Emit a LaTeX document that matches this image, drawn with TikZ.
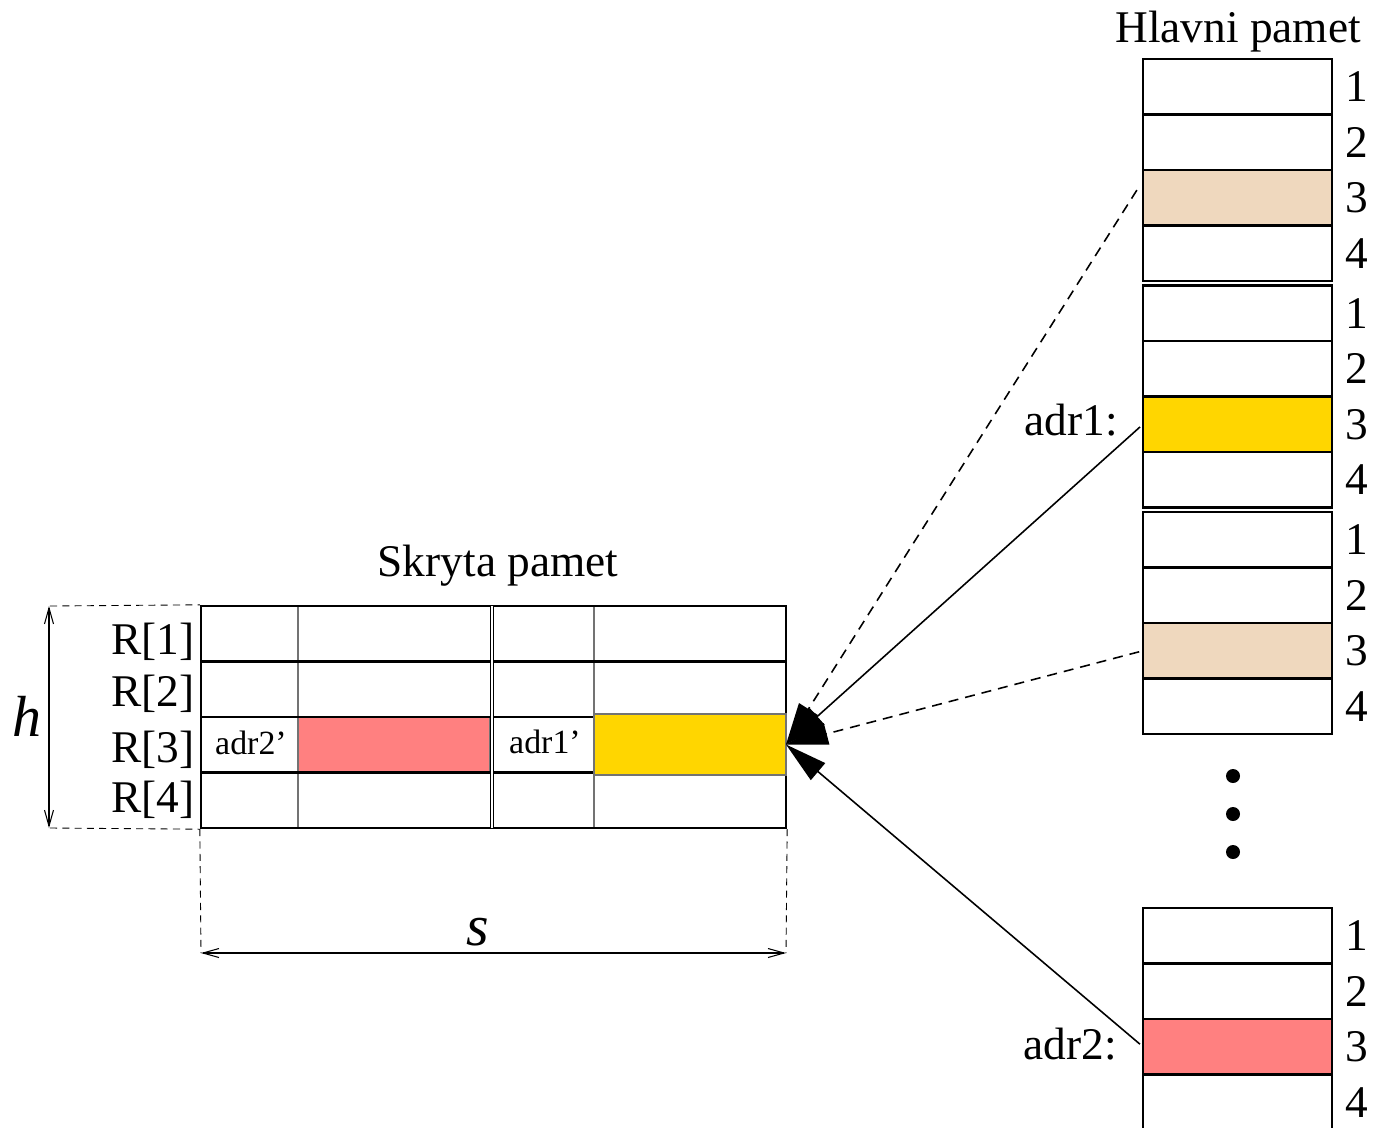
\documentclass[tikz,border=0pt]{standalone}
\usepackage{fontspec}
\setmainfont{Liberation Serif}
\usetikzlibrary{arrows.meta}
\definecolor{beige}{RGB}{239,216,190}
\definecolor{gold}{RGB}{255,214,0}
\definecolor{salmon}{RGB}{255,128,128}
\def\pxu{0.02cm}
\newcommand{\bigtxt}{\fontsize{25.8}{31}\selectfont}
\newcommand{\smalltxt}{\fontsize{19.3}{23}\selectfont}
\newcommand{\dimtxt}{\fontsize{33}{40}\selectfont\itshape}
\tikzset{
  heavy/.style={line width=1.35pt},
  hair/.style={line width=0.6pt, draw=black!55},
  memrow/.style={draw, heavy, minimum width=189*\pxu, minimum height=55.5*\pxu, inner sep=0pt, outer sep=0pt},
  cell/.style={hair, minimum width=192*\pxu, minimum height=55.5*\pxu, inner sep=0pt, outer sep=0pt},
  bigfont/.style={font=\bigtxt, inner sep=0pt},
  smallfont/.style={font=\smalltxt, inner sep=0pt},
  dimfont/.style={font=\dimtxt, inner sep=0pt},
  fetch/.style={line width=0.9pt, shorten <=0.08cm, -{Triangle[length=0.84cm, width=0.44cm]}},
  fetchdash/.style={fetch, dash pattern=on 0.2cm off 0.14cm},
  dimline/.style={line width=0.5pt, dash pattern=on 4pt off 3pt},
  dimarrow/.style={line width=0.6pt, {Straight Barb[length=0.32cm, width=0.18cm]}-{Straight Barb[length=0.32cm, width=0.18cm]}}
}

\begin{document}
\begin{tikzpicture}[x=0.02cm, y=-0.02cm]
	%%%%% START %%%%%
	\useasboundingbox (0,0) rectangle (1373,1127);

	% main memory
	\node[bigfont, anchor=base] (hlavni) at (1238,42) {Hlavni pamet};
	\foreach \b/\yb/\c in {1/59/beige,2/285.5/gold,3/512/beige,4/908/salmon}{
		\foreach \r/\f in {1/white,2/white,3/\c,4/white}{
			\node[memrow, fill=\f] (m\b-\r) at (1237.5,{\yb+27.75+55.5*(\r-1)}) {};
			\node[bigfont, anchor=base] (n\b-\r) at (1357,{\yb+42.75+55.5*(\r-1)}) {\r};
		}
	}
	\foreach \y in {776,814,852}
		\fill (1233,\y) circle (7);

	\node[bigfont, anchor=base east] (adr1) at (1118,435) {adr1:};
	\node[bigfont, anchor=base east] (adr2) at (1117,1059) {adr2:};

	% cache
	\node[bigfont, anchor=base] (skryta) at (498,576) {Skryta pamet};
	\node[cell, fill=salmon] (c3-d1) at (394,744.75) {};
	\draw[hair] (298,606) -- (298,828);
	\draw[hair] (594,606) -- (594,828);
	\foreach \y in {661.5,717,772.5}
		\draw[heavy] (201,\y) -- (786,\y);
	\node[draw, heavy, minimum width=585*\pxu, minimum height=222*\pxu, inner sep=0pt] (cache) at (493.5,717) {};
	\draw[double, double distance=0.035cm, line width=0.8pt] (492,606) -- (492,828);
	\node[cell, fill=gold, minimum height=61*\pxu] (c3-d2) at (690,744.5) {};
	\node[smallfont, anchor=base] (c3-t1) at (251,754) {adr2'};
	\node[smallfont, anchor=base] (c3-t2) at (545,753) {adr1'};

	\foreach \r/\y in {1/654,2/706,3/762,4/812}
		\node[bigfont, anchor=base east] (reg\r) at (195,\y) {R[\r]};

	% dimensions
	\draw[dimline] (50,606) -- (cache.north west);
	\draw[dimline] (50,828) -- (cache.south west);
	\draw[dimarrow] (49,606) -- (49,828);
	\node[dimfont] (hdim) at (27,716) {h};
	\draw[dimline] (cache.south west) -- (201,953);
	\draw[dimline] (cache.south east) -- (786,953);
	\draw[dimarrow] (201,953) -- (786,953);
	\node[dimfont] (sdim) at (478,932) {s};

	% transfers
	\draw[fetchdash] ([shift={(-4,-11)}]m1-3.west) -- (c3-d2.east);
	\draw[fetch] (m2-3.west) -- (c3-d2.east);
	\draw[fetchdash] (m3-3.west) -- (c3-d2.east);
	\draw[fetch] (m4-3.west) -- (c3-d2.east);
	%%%%% END %%%%%
\end{tikzpicture}
\end{document}
